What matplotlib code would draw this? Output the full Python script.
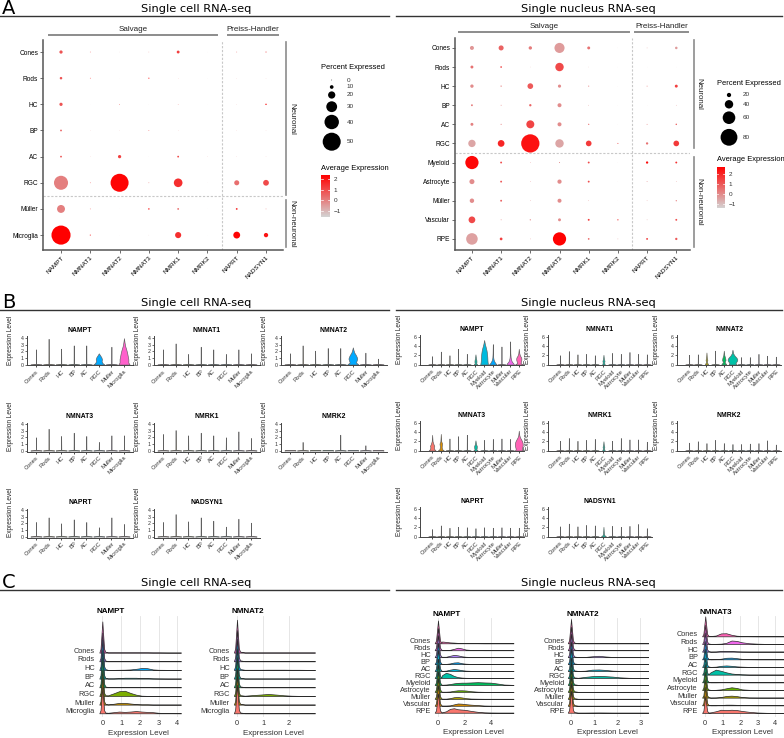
import numpy as np
import matplotlib
matplotlib.use('Agg')
import matplotlib.pyplot as plt
from matplotlib.colors import LinearSegmentedColormap, Normalize
from matplotlib.cm import ScalarMappable

plt.rcParams['font.family'] = ['Liberation Sans', 'DejaVu Sans']

# ---------------- data ----------------
genes = ['NAMPT', 'NMNAT1', 'NMNAT2', 'NMNAT3', 'NMRK1', 'NMRK2', 'NAPRT', 'NADSYN1']
cells_sc = ['Cones', 'Rods', 'HC', 'BP', 'AC', 'RGC', 'Müller', 'Microglia']
cells_sn = ['Cones', 'Rods', 'HC', 'BP', 'AC', 'RGC', 'Myeloid', 'Astrocyte', 'Müller', 'Vascular', 'RPE']

# percent expressed (rows = cells, cols = genes)
pct_sc = [[9, 2, 1, 1.5, 8, 0.5, 2, 3],
          [7, 2, 0.5, 3, 1, 0.5, 1, 1],
          [9, 0.3, 2, 0.5, 1.5, 0.3, 1, 4],
          [5, 1, 1, 2, 1, 0.3, 1, 1],
          [5, 1, 9, 0.5, 5, 1, 1, 1],
          [39, 2, 50, 2, 24, 0.5, 14, 16],
          [22, 2, 0.5, 4, 5, 0.3, 5, 2],
          [53, 3, 0.5, 1, 17, 0.3, 19, 12]]
avg_sc = [[0.8, 0.8, -0.5, 0.3, 1.2, 0, 0.5, 0.8],
          [0.8, 1.8, -0.5, 2.0, 0.8, 0, 0, 0.3],
          [0.8, 0, 0.8, 0, 0.8, 0, 0.3, 1.8],
          [0.5, 0, 0, 1, 0.5, 0, 0.3, 0.3],
          [0.8, 0, 1.2, 0, 1, 0.3, 0.3, 0.3],
          [0.0, 0.8, 2.3, 0.3, 1.5, 0, 0.3, 1.0],
          [0.0, 0.8, -0.5, 1.8, 0.3, 0, 1.5, 0.3],
          [2.4, 1.5, -0.5, -0.5, 1.5, 0, 2.3, 2.0]]

pct_sn = [[19, 24, 16, 48, 14, 1, 3, 12],
          [14, 8, 2, 40, 2, 1, 1, 1],
          [16, 6, 27, 15, 5, 1, 4, 14],
          [9, 4, 11, 19, 3, 1, 1, 3],
          [14, 5, 38, 19, 6, 1, 4, 7],
          [35, 32, 87, 40, 27, 5, 11, 27],
          [63, 9, 3, 5, 9, 1, 11, 9],
          [24, 9, 3, 20, 9, 1, 4, 3],
          [21, 9, 3, 19, 3, 1, 3, 6],
          [32, 4, 6, 14, 9, 6, 3, 9],
          [55, 13, 3, 63, 8, 3, 9, 11]]
avg_sn = [[-0.2, 0.8, 0.3, -0.3, 0.5, 0, 0, -0.3],
          [0.5, 1.3, 0, 1.3, 0, 0, 0, 0],
          [0, 0.3, 1.0, 0, 0.3, 0, 0.5, 1.5],
          [0.3, 0.3, 0.8, 0, 0, 0, 0, 0],
          [0.2, 0.3, 1.4, 0, 0.5, 0, 0.3, 0.8],
          [-0.5, 2.0, 2.4, -0.5, 1.6, 1.0, 0.5, 1.6],
          [2.6, 1.2, 0, 0, 1.3, 0, 2.5, 1.8],
          [0, 1.0, 0, 0, 1.2, 0, 0, 0],
          [0, 0.8, 0, 0, 0, 0, 0, 0.3],
          [1.3, 0.3, 0, 0, 1.6, 1.5, 0, 1.2],
          [-0.4, 1.5, 0, 2.7, 0.8, 0, 1.3, 1.0]]

legend_pct_sc = [0, 10, 20, 30, 40, 50]
legend_pct_sn = [20, 40, 60, 80]

# violin plots: maximum expression per cell type
vln_cells_sc = ['Cones', 'Rods', 'HC', 'BP', 'AC', 'RGC', 'Muller', 'Microglia']
vln_cells_sn = ['Cones', 'Rods', 'HC', 'BP', 'AC', 'RGC', 'Myeloid', 'Astrocyte', 'Muller', 'Vascular', 'RPE']
vmax_sc = {'NAMPT': [2.3, 3.9, 2.4, 2.9, 2.9, 1.7, 2.7, 4.0],
           'NMNAT1': [2.3, 3.2, 1.6, 2.7, 2.3, 1.6, 2.3, 1.7],
           'NMNAT2': [1.7, 2.9, 2.1, 2.5, 2.5, 2.6, 1.8, 0.9],
           'NMNAT3': [2.0, 3.3, 2.2, 2.7, 2.2, 1.3, 2.3, 2.3],
           'NMRK1': [2.5, 3.1, 2.3, 2.7, 2.3, 2.0, 2.9, 1.9],
           'NMRK2': [0, 1.3, 0, 0, 2.4, 0, 0.8, 0],
           'NAPRT': [2.2, 2.9, 2.0, 2.6, 2.2, 1.4, 2.9, 1.9],
           'NADSYN1': [2.2, 3.4, 2.3, 2.9, 2.4, 1.5, 2.7, 2.1]}
vmax_sn = {'NAMPT': [1.8, 2.8, 2.0, 3.4, 2.3, 2.2, 5.3, 4.4, 3.9, 5.0, 3.4],
           'NMNAT1': [2.0, 2.9, 2.2, 2.3, 2.0, 2.1, 2.5, 2.3, 2.7, 2.3, 2.2],
           'NMNAT2': [2.1, 2.2, 2.6, 3.0, 3.0, 3.2, 1.6, 1.6, 2.3, 1.9, 1.7],
           'NMNAT3': [3.4, 3.6, 2.6, 3.1, 3.4, 2.2, 2.3, 2.5, 2.6, 2.5, 4.3],
           'NMRK1': [2.1, 2.7, 2.1, 2.3, 2.5, 2.0, 2.1, 2.7, 2.4, 2.4, 1.9],
           'NMRK2': [1.7, 2.0, 1.6, 2.3, 1.6, 1.4, 1.4, 1.5, 1.6, 2.2, 1.3],
           'NAPRT': [1.6, 2.4, 1.9, 2.1, 2.0, 1.8, 2.0, 1.9, 2.0, 1.9, 1.9],
           'NADSYN1': [2.2, 2.8, 2.2, 2.5, 2.4, 2.1, 2.3, 2.1, 2.3, 2.7, 1.8]}

# violin outlines: (expression levels, half widths)
vln_shape_sc = {
    ('NAMPT', 'RGC'): ([0, 0.2, 0.5, 0.8, 1.1, 1.4, 1.7], [0.45, 0.3, 0.22, 0.25, 0.2, 0.1, 0]),
    ('NAMPT', 'Microglia'): ([0, 0.3, 0.8, 1.3, 1.8, 2.3, 2.8, 3.3, 4.0],
                             [0.45, 0.35, 0.35, 0.3, 0.25, 0.18, 0.1, 0.05, 0]),
    ('NMNAT2', 'RGC'): ([0, 0.3, 0.6, 0.9, 1.2, 1.5, 1.8, 2.2, 2.6],
                        [0.45, 0.25, 0.3, 0.35, 0.3, 0.22, 0.12, 0.05, 0]),
}
vln_shape_sn = {
    ('NAMPT', 'RGC'): ([0, 0.3, 0.6, 1.0, 1.4, 2.2], [0.2, 0.08, 0.12, 0.1, 0.05, 0]),
    ('NAMPT', 'Myeloid'): ([0, 0.5, 1, 1.5, 2, 2.5, 3, 3.5, 4, 4.5, 5.3],
                           [0.45, 0.4, 0.38, 0.37, 0.35, 0.32, 0.28, 0.22, 0.15, 0.08, 0]),
    ('NAMPT', 'Astrocyte'): ([0, 0.3, 0.6, 1, 1.5, 2.5, 4.4], [0.45, 0.3, 0.2, 0.1, 0.05, 0.02, 0]),
    ('NAMPT', 'Vascular'): ([0, 0.3, 0.6, 1, 1.5, 2.5, 5.0], [0.45, 0.35, 0.2, 0.12, 0.06, 0.02, 0]),
    ('NAMPT', 'RPE'): ([0, 0.3, 0.7, 1.1, 1.5, 1.9, 2.4, 3.4], [0.45, 0.2, 0.25, 0.3, 0.28, 0.15, 0.06, 0]),
    ('NMNAT1', 'RGC'): ([0, 0.4, 0.8, 1.2, 2.1], [0.15, 0.08, 0.12, 0.05, 0]),
    ('NMNAT2', 'HC'): ([0, 0.5, 1.0, 1.5, 2.6], [0.2, 0.05, 0.1, 0.04, 0]),
    ('NMNAT2', 'AC'): ([0, 0.5, 1.0, 1.5, 2.0, 3.0], [0.3, 0.1, 0.2, 0.15, 0.06, 0]),
    ('NMNAT2', 'RGC'): ([0, 0.3, 0.6, 0.9, 1.2, 1.5, 1.9, 2.4, 3.2],
                        [0.45, 0.35, 0.45, 0.55, 0.55, 0.45, 0.25, 0.08, 0]),
    ('NMNAT3', 'Cones'): ([0, 0.3, 0.7, 1.0, 1.4, 2.0, 3.4], [0.4, 0.25, 0.2, 0.25, 0.15, 0.05, 0]),
    ('NMNAT3', 'Rods'): ([0, 0.3, 0.8, 1.5, 2.0, 3.6], [0.35, 0.15, 0.1, 0.15, 0.05, 0]),
    ('NMNAT3', 'RGC'): ([0, 0.3, 0.6, 1.0, 1.4, 2.2], [0.25, 0.1, 0.15, 0.15, 0.06, 0]),
    ('NMNAT3', 'RPE'): ([0, 0.3, 0.7, 1.1, 1.5, 1.9, 2.3, 2.8, 3.3, 4.3],
                        [0.45, 0.35, 0.4, 0.45, 0.45, 0.4, 0.3, 0.15, 0.06, 0]),
    ('NMRK1', 'RGC'): ([0, 0.4, 0.8, 1.2, 2.0], [0.15, 0.06, 0.1, 0.04, 0]),
    ('NADSYN1', 'RGC'): ([0, 0.3, 0.6, 2.1], [0.3, 0.1, 0.05, 0]),
}

# ridge plots: peak height at zero (row units) and density tails on a grid
ridge_sc = {
    'NAMPT': {'grid': [0.3, 0.6, 0.9, 1.2, 1.5, 1.8, 2.1, 2.4, 2.7, 3.0, 3.5, 4.2],
              'peak': [3.6, 3.3, 3.5, 3.3, 3.4, 3.0, 3.2, 3.0],
              'tail': [[0.03, 0.03, 0.03, 0.03, 0.03, 0.03, 0.03, 0.03, 0.02, 0.02, 0.01, 0.01],
                       [0.01, 0.01, 0.01, 0.01, 0.01, 0.01, 0.01, 0.01, 0.01, 0.01, 0.01, 0.01],
                       [0.01, 0.01, 0.02, 0.03, 0.06, 0.13, 0.22, 0.2, 0.06, 0.02, 0.01, 0.01],
                       [0.03, 0.03, 0.06, 0.1, 0.1, 0.1, 0.06, 0.06, 0.03, 0.02, 0.01, 0.01],
                       [0.02, 0.02, 0.03, 0.05, 0.05, 0.05, 0.03, 0.02, 0.01, 0.01, 0.01, 0.01],
                       [0.07, 0.3, 0.55, 0.6, 0.35, 0.15, 0.03, 0.01, 0.01, 0.01, 0.01, 0.01],
                       [0.03, 0.1, 0.2, 0.2, 0.13, 0.06, 0.03, 0.03, 0.01, 0.01, 0.01, 0.01],
                       [0.06, 0.13, 0.2, 0.16, 0.2, 0.26, 0.2, 0.16, 0.13, 0.06, 0.02, 0.01]]},
    'NMNAT2': {'grid': [0.3, 0.6, 0.9, 1.2, 1.5, 1.8, 2.1, 2.4, 2.7, 3.0],
               'peak': [3.8, 3.6, 3.6, 3.5, 3.5, 3.2, 3.4, 3.3],
               'tail': [[0.02] * 10, [0.01] * 10,
                        [0.02, 0.02, 0.02, 0.03, 0.03, 0.03, 0.02, 0.02, 0.01, 0.01],
                        [0.02] * 10,
                        [0.01] * 10,
                        [0.03, 0.1, 0.16, 0.23, 0.16, 0.08, 0.03, 0.01, 0.01, 0.01],
                        [0.01] * 10, [0.01] * 10]},
}
ridge_sn = {
    'NAMPT': {'grid': [0.3, 0.6, 0.9, 1.2, 1.5, 1.8, 2.1, 2.5, 3, 3.5, 4, 4.5, 5, 5.7],
              'peak': [3.3, 3.2, 3.2, 3.1, 3.1, 2.8, 3.0, 3.0, 3.0, 3.0, 2.8],
              'tail': [[0.26, 0.2, 0.13, 0.1, 0.06, 0.05, 0.03, 0.03, 0.02, 0.01, 0.01, 0.01, 0.01, 0.01],
                       [0.06, 0.03, 0.06, 0.2, 0.36, 0.26, 0.1, 0.04, 0.02, 0.01, 0.01, 0.01, 0.01, 0.01],
                       [0.06, 0.06, 0.2, 0.33, 0.26, 0.13, 0.06, 0.03, 0.02, 0.01, 0.01, 0.01, 0.01, 0.01],
                       [0.03, 0.03, 0.1, 0.23, 0.26, 0.13, 0.06, 0.03, 0.02, 0.01, 0.01, 0.01, 0.01, 0.01],
                       [0.03, 0.06, 0.2, 0.3, 0.23, 0.13, 0.06, 0.03, 0.02, 0.01, 0.01, 0.01, 0.01, 0.01],
                       [0.4, 0.75, 0.6, 0.3, 0.13, 0.06, 0.03, 0.02, 0.01, 0.01, 0.01, 0.01, 0.01, 0.01],
                       [0.03, 0.06, 0.13, 0.23, 0.3, 0.33, 0.33, 0.36, 0.4, 0.36, 0.33, 0.2, 0.06, 0.01],
                       [0.03, 0.03, 0.06, 0.16, 0.23, 0.23, 0.2, 0.1, 0.03, 0.01, 0.01, 0.01, 0.01, 0.01],
                       [0.03, 0.03, 0.1, 0.23, 0.26, 0.2, 0.1, 0.04, 0.02, 0.01, 0.01, 0.01, 0.01, 0.01],
                       [0.03, 0.03, 0.06, 0.2, 0.33, 0.3, 0.23, 0.16, 0.1, 0.03, 0.01, 0.01, 0.01, 0.01],
                       [0.06, 0.2, 0.55, 0.65, 0.5, 0.45, 0.4, 0.26, 0.13, 0.05, 0.02, 0.01, 0.01, 0.01]]},
    'NMNAT2': {'grid': [0.3, 0.6, 0.9, 1.2, 1.5, 1.8, 2.1, 2.5, 3.0, 3.35],
               'peak': [3.5, 3.4, 3.4, 3.3, 3.3, 3.0, 3.3, 3.3, 3.3, 3.3, 3.2],
               'tail': [[0.01] * 10, [0.01] * 10,
                        [0.01, 0.03, 0.13, 0.2, 0.1, 0.03, 0.01, 0.01, 0.01, 0.01],
                        [0.02, 0.02, 0.03, 0.05, 0.05, 0.03, 0.02, 0.01, 0.01, 0.01],
                        [0.02, 0.05, 0.2, 0.23, 0.16, 0.06, 0.03, 0.01, 0.01, 0.01],
                        [0.03, 0.16, 0.26, 0.3, 0.26, 0.2, 0.1, 0.03, 0.01, 0.01],
                        [0.01] * 10, [0.01] * 10, [0.01] * 10, [0.01] * 10,
                        [0.01, 0.01, 0.02, 0.03, 0.02, 0.01, 0.01, 0.01, 0.01, 0.01]]},
    'NMNAT3': {'grid': [0.3, 0.6, 0.9, 1.2, 1.5, 1.8, 2.1, 2.5, 3, 3.5, 4, 4.5],
               'peak': [2.6, 2.5, 2.5, 2.4, 2.4, 2.2, 2.4, 2.4, 2.4, 2.4, 2.2],
               'tail': [[0.04, 0.1, 0.38, 0.4, 0.2, 0.08, 0.04, 0.02, 0.01, 0.01, 0.01, 0.01],
                        [0.02, 0.02, 0.04, 0.15, 0.45, 0.4, 0.22, 0.1, 0.04, 0.01, 0.01, 0.01],
                        [0.01, 0.02, 0.08, 0.1, 0.08, 0.04, 0.02, 0.01, 0.01, 0.01, 0.01, 0.01],
                        [0.01, 0.02, 0.08, 0.2, 0.22, 0.15, 0.06, 0.02, 0.01, 0.01, 0.01, 0.01],
                        [0.01, 0.04, 0.15, 0.2, 0.15, 0.08, 0.04, 0.01, 0.01, 0.01, 0.01, 0.01],
                        [0.3, 0.65, 0.5, 0.3, 0.15, 0.08, 0.04, 0.01, 0.01, 0.01, 0.01, 0.01],
                        [0.01, 0.01, 0.02, 0.04, 0.06, 0.04, 0.02, 0.01, 0.01, 0.01, 0.01, 0.01],
                        [0.01, 0.02, 0.08, 0.22, 0.35, 0.26, 0.08, 0.02, 0.01, 0.01, 0.01, 0.01],
                        [0.01, 0.02, 0.08, 0.22, 0.26, 0.2, 0.08, 0.02, 0.01, 0.01, 0.01, 0.01],
                        [0.01, 0.01, 0.04, 0.08, 0.08, 0.06, 0.04, 0.02, 0.01, 0.01, 0.01, 0.01],
                        [0.08, 0.22, 0.42, 0.38, 0.42, 0.38, 0.26, 0.15, 0.06, 0.02, 0.01, 0.01]]},
}

hue8 = ['#F8766D', '#CD9600', '#7CAE00', '#00BE67', '#00BFC4', '#00A9FF', '#C77CFF', '#FF61CC']
hue11 = ['#F8766D', '#DB8E00', '#AEA200', '#64B200', '#00BD5C', '#00C1A7', '#00BADE',
         '#00A6FF', '#B385FF', '#EF67EB', '#FF63B6']

# ---------------- layout ----------------
W, H = 784, 738
fig = plt.figure(figsize=(W / 100, H / 100), dpi=100)


def box(x0, y0, x1, y1):
    return [x0 / W, 1 - y1 / H, (x1 - x0) / W, (y1 - y0) / H]


ov = fig.add_axes([0, 0, 1, 1])
ov.set_xlim(0, W)
ov.set_ylim(H, 0)
ov.axis('off')

for letter, ty, ly in [('A', 8.5, 15.7), ('B', 302.5, 310), ('C', 582.5, 590)]:
    ov.text(2, ty, letter, fontsize=14, family='DejaVu Sans', va='center', ha='left')
    ov.text(196, ty, 'Single cell RNA-seq', fontsize=8.2, family='DejaVu Sans', ha='center', va='center')
    ov.text(588, ty, 'Single nucleus RNA-seq', fontsize=8.2, family='DejaVu Sans', ha='center', va='center')
    ov.plot([0, 389], [ly, ly], color='#333333', lw=1)
    ov.plot([396, 782], [ly, ly], color='#333333', lw=1)

cmap = LinearSegmentedColormap.from_list('gr', ['#D3D3D3', '#FF0000'])


# ---------------- panel A ----------------
def dotplot(rect, cells, pct, avg, dscale, norm, xlim, ylim, brk_y, lab_y, nx_line, row_br):
    ax = fig.add_axes(box(*rect))
    X, Y = np.meshgrid(np.arange(1, len(genes) + 1), np.arange(1, len(cells) + 1))
    s = (np.array(pct, dtype=float) * dscale * 0.72) ** 2
    ax.scatter(X.ravel(), Y.ravel(), s=s.ravel(), c=np.array(avg).ravel(), cmap=cmap, norm=norm,
               edgecolors='none', zorder=3)
    ax.set_xlim(*xlim)
    ax.set_ylim(*ylim)
    ax.axvline(6.5, color='#C8C8C8', lw=0.8, ls=(0, (2, 1.5)))
    ax.axhline(6.5, color='#C8C8C8', lw=0.8, ls=(0, (2, 1.5)))
    for sp in ['top', 'right']:
        ax.spines[sp].set_visible(False)
    for sp in ['left', 'bottom']:
        ax.spines[sp].set_color('#555555')
        ax.spines[sp].set_linewidth(1.1)
    ax.set_xticks(np.arange(1, len(genes) + 1))
    ax.set_xticklabels(genes, rotation=45, ha='right', rotation_mode='anchor', fontsize=4.6)
    ax.set_yticks(np.arange(1, len(cells) + 1))
    ax.set_yticklabels(cells, fontsize=4.7)
    ax.tick_params(length=2, width=0.6, color='#555555', pad=1.5)
    tx = ax.get_xaxis_transform()
    for (a, b), name in zip(nx_line, ['Salvage', 'Preiss-Handler']):
        ax.plot([a, b], [brk_y, brk_y], transform=tx, clip_on=False, color='#8C8C8C', lw=1.4)
        ax.text((a + b) / 2, lab_y, name, transform=tx, ha='center', va='center', fontsize=5.8,
                color='#222222')
    ty = ax.get_yaxis_transform()
    for (xl, xt, a, b), name in zip(row_br, ['Neuronal', 'Non-neuronal']):
        ax.plot([xl, xl], [a, b], transform=ty, clip_on=False, color='#8C8C8C', lw=1.2)
        ax.text(xt, (a + b) / 2, name, transform=ty, rotation=-90, ha='center', va='center',
                fontsize=5.7, color='#222222')
    return ax


norm_sc = Normalize(-1.57, 2.38)
norm_sn = Normalize(-1.4, 2.73)
dotplot((43, 40, 283, 250), cells_sc, pct_sc, avg_sc, 0.36, norm_sc, (0.385, 8.58), (8.57, 0.54),
        1.024, 1.05, [(0.59, 6.33), (6.7, 8.41)],
        [(1.0125, 1.036, 0.62, 6.47), (1.0125, 1.036, 6.66, 8.46)])
dotplot((455, 38, 690, 250), cells_sn, pct_sn, avg_sn, 0.21, norm_sn, (0.42, 8.47), (11.58, 0.48),
        1.028, 1.052, [(0.55, 6.38), (6.6, 8.4)],
        [(1.017, 1.036, 0.58, 6.24), (1.017, 1.036, 6.71, 11.42)])


def legend(x, title_y, circ_x, circ_y, vals, dscale, lab_x, cb_box, cb_title_y, norm):
    ov.text(x, title_y, 'Percent Expressed', fontsize=5.4, va='center', ha='left')
    ov.scatter([circ_x] * len(vals), circ_y, s=(np.array(vals, dtype=float) * dscale * 0.72) ** 2 + 0.3,
               color='black', edgecolors='none')
    for v, yy in zip(vals, circ_y):
        ov.text(lab_x, yy, str(v), fontsize=4.6, va='center', ha='left', color='#333333')
    ov.text(x, cb_title_y, 'Average Expression', fontsize=5.4, va='center', ha='left')
    cax = fig.add_axes(box(*cb_box))
    cb = fig.colorbar(ScalarMappable(norm=norm, cmap=cmap), cax=cax)
    cb.outline.set_visible(False)
    cb.set_ticks([-1, 0, 1, 2])
    cax.tick_params(length=0, labelsize=4.6, pad=2.5, colors='#333333')
    for t in [-1, 0, 1, 2]:
        cax.plot([0, 0.2], [t, t], transform=cax.get_yaxis_transform(), color='white', lw=0.5)
        cax.plot([0.8, 1], [t, t], transform=cax.get_yaxis_transform(), color='white', lw=0.5)


legend(321, 67.5, 331.7, [80, 87, 95, 106.7, 122, 141.7], legend_pct_sc, 0.36, 346.7,
       (321, 175, 330, 216.7), 169, norm_sc)
legend(716.7, 83.3, 729, [95, 104.3, 117.7, 137.3], legend_pct_sn, 0.21, 742.7,
       (716.7, 166.7, 725, 208.3), 159.3, norm_sn)


# ---------------- panel B ----------------
def violin(rect, gene, cells, vmax, shapes, colors, ylim, yticks, xlim, ylab_x):
    ax = fig.add_axes(box(*rect))
    for i, (c, m) in enumerate(zip(cells, vmax)):
        if (gene, c) in shapes:
            ys, hw = shapes[(gene, c)]
        elif m > 0.1:
            ys, hw = [0, 0.08, m], [0.45, 0.012, 0]
        else:
            ys, hw = [0, 0.08], [0.45, 0.35]
        ys = np.array(ys)
        hw = np.array(hw)
        ax.fill_betweenx(ys, i + 1 - hw, i + 1 + hw, facecolor=colors[i], edgecolor='#606060', lw=0.45)
    ax.set_xlim(*xlim)
    ax.set_ylim(*ylim)
    ax.set_yticks(yticks)
    ax.tick_params(axis='y', labelsize=3.8, length=1.5, width=0.5, pad=1, colors='#333333')
    ax.set_xticks(np.arange(1, len(cells) + 1))
    ax.set_xticklabels(cells, rotation=45, ha='right', rotation_mode='anchor', fontsize=4.2,
                       color='#333333')
    ax.tick_params(axis='x', length=1.5, width=0.5, pad=1)
    for sp in ['top', 'right']:
        ax.spines[sp].set_visible(False)
    for sp in ['left', 'bottom']:
        ax.spines[sp].set_color('#444444')
        ax.spines[sp].set_linewidth(0.7)
    ax.set_title(gene, fontsize=4.9, fontweight='bold', pad=3)
    ax.set_ylabel('Expression Level', fontsize=4.7, color='#222222')
    ax.yaxis.set_label_coords(ylab_x, 0.85)


rows_y0 = [364.5, 450.5, 536.5]
for k, g in enumerate(genes):
    r, c = divmod(k, 3)
    y0 = rows_y0[r]
    x0 = [27, 154, 281][c]
    violin((x0, y0 - 28, x0 + 106, y0 + 1), g, vln_cells_sc, vmax_sc[g], vln_shape_sc, hue8,
           (-0.15, 4.25), [0, 1, 2, 3, 4], (0.28, 8.72), -0.12)
    x0 = [420, 548, 677][c]
    violin((x0, y0 - 29.1, x0 + 104, y0 + 0.7), g, vln_cells_sn, vmax_sn[g], vln_shape_sn, hue11,
           (-0.15, 6.3), [0, 2, 4, 6], (-0.4, 11.6), -0.16)


# ---------------- panel C ----------------
peak_off = np.array([-1, -0.6, -0.3, 0, 0.3, 0.6, 1])
peak_rel = np.array([0, 0.12, 0.55, 1, 0.55, 0.12, 0.03])


def ridges(rect, gene, cells, data, colors, pw, xlim, ylim, xticks, label_fs=5.3):
    ax = fig.add_axes(box(*rect))
    n = len(cells)
    d = data[gene]
    x = np.concatenate([peak_off * pw, d['grid']])
    for k in range(n):
        base = n - 1 - k
        h = np.concatenate([peak_rel * d['peak'][k], d['tail'][k]])
        ax.fill_between(x, base, base + h, facecolor=colors[k], edgecolor='#2A2A2A', lw=0.5,
                        zorder=k + 2)
    ax.set_xlim(*xlim)
    ax.set_ylim(*ylim)
    ax.set_xticks(xticks)
    ax.set_yticks(np.arange(n))
    ax.set_yticklabels(cells[::-1], va='baseline')
    ax.tick_params(axis='y', length=0, labelsize=label_fs, pad=1.5, colors='#333333')
    ax.tick_params(axis='x', length=0, labelsize=5.3, pad=2, colors='#333333')
    ax.grid(axis='x', color='#E2E2E2', lw=0.6)
    ax.set_axisbelow(True)
    for sp in ax.spines.values():
        sp.set_visible(False)
    ax.set_title(gene, fontsize=5.8, fontweight='bold', loc='left', pad=2)
    ax.set_xlabel('Expression Level', fontsize=5.8, color='#333333', labelpad=2)


ridge_cells_sc = ['Cones', 'Rods', 'HC', 'BP', 'AC', 'RGC', 'Muller', 'Microglia']
ridge_cells_sn = ['Cones', 'Rods', 'HC', 'BP', 'AC', 'RGC', 'Myeloid', 'Astrocyte', 'Muller', 'Vascular', 'RPE']
ridges((96.7, 616.2, 181, 717.2), 'NAMPT', ridge_cells_sc, ridge_sc, hue8[::-1], 0.16,
       (-0.3, 4.2), (-0.45, 11.2), [0, 1, 2, 3, 4])
ridges((231.8, 616.2, 315, 717.2), 'NMNAT2', ridge_cells_sc, ridge_sc, hue8[::-1], 0.12,
       (-0.2, 3.0), (-0.45, 11.2), [0, 1, 2])
ridges((432.7, 618.3, 513.5, 716.9), 'NAMPT', ridge_cells_sn, ridge_sn, hue11[::-1], 0.25,
       (-0.4, 5.7), (-0.6, 13.6), [0, 2, 4])
ridges((566.4, 618.3, 648.4, 716.9), 'NMNAT2', ridge_cells_sn, ridge_sn, hue11[::-1], 0.14,
       (-0.2, 3.35), (-0.6, 13.6), [0, 1, 2, 3])
ridges((700, 616.4, 784, 716.8), 'NMNAT3', ridge_cells_sn, ridge_sn, hue11[::-1], 0.18,
       (-0.3, 4.5), (-0.5, 12.6), [0, 1, 2, 3, 4])

fig.savefig('out.png', dpi=100)
